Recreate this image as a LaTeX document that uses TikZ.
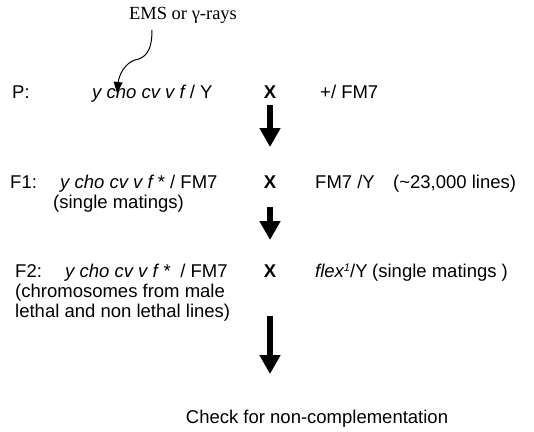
\documentclass[tikz,border=0pt]{standalone}
\usepackage{fontspec}
\setmainfont{Liberation Sans}
\newfontfamily\tnr{Liberation Serif}
\usetikzlibrary{arrows.meta}
\begin{document}
\begin{tikzpicture}[x=1pt,y=-1pt,
  txt/.style={inner sep=0pt, anchor=base west, font=\fontsize{18.5}{20}\selectfont},
  crossx/.style={inner sep=0pt, anchor=base, font=\fontsize{18.5}{20}\selectfont\bfseries},
  bigarrow/.style={line width=5.5pt, -{Triangle[width=20pt,length=19pt]}},
  bendarrow/.style={line width=1pt, -{Triangle[width=9pt,length=11pt]}}]
\useasboundingbox[fill=white] (0,0) rectangle (534,431);
% mutagen
\node[inner sep=0pt, anchor=base, font=\tnr\fontsize{18.5}{20}\selectfont] (ems) at (183,19) {EMS or γ-rays};
% P line
\node[txt] (p) at (12,98) {P:};
\node[txt] (pg) at (92,98) {\itshape y cho cv v f\upshape{} / Y};
\node[crossx] (px) at (270,98) {X};
\node[txt] (pm) at (320,98) {+/ FM7};
% F1 line
\node[txt] (f1) at (10,188) {F1:};
\node[txt] (f1g) at (60,188) {\itshape y cho cv v f\upshape{} * / FM7};
\node[crossx] (f1x) at (270,188) {X};
\node[txt] (f1m) at (315,188) {FM7 /Y};
\node[txt] (f1n) at (393,188) {(\textasciitilde23,000 lines)};
\node[txt] (f1s) at (53,208) {(single matings)};
% F2 line
\node[txt] (f2) at (15,277) {F2:};
\node[txt] (f2g) at (65,277) {\itshape y cho cv v f *\upshape{}\ \ / FM7};
\node[crossx] (f2x) at (270,277) {X};
\node[txt] (f2m) at (315,277) {\itshape flex\upshape{}\raisebox{0.55ex}{\fontsize{11}{11}\selectfont\itshape 1}/Y};
\node[txt] (f2s) at (372,277) {(single matings )};
\node[txt] (f2c) at (15,297) {(chromosomes from male};
\node[txt] (f2l) at (15,317) {lethal and non lethal lines)};
% result
\node[inner sep=0pt, anchor=base, font=\fontsize{18.5}{20}\selectfont] (chk) at (317,423) {Check for non-complementation};
% arrows
\coordinate (a1s) at (270,105);
\coordinate (a1e) at (270,147);
\coordinate (a2s) at (270,207);
\coordinate (a2e) at (270,240);
\coordinate (a3s) at (270,316);
\coordinate (a3e) at (270,374);
\draw[bigarrow] (a1s) -- (a1e);
\draw[bigarrow] (a2s) -- (a2e);
\draw[bigarrow] (a3s) -- (a3e);
\coordinate (cs) at (152,30);
\coordinate (cm) at (135,60);
\coordinate (ce) at (117,93);
\draw[bendarrow] (cs) .. controls (152,52) and (145,58) .. (cm) .. controls (125,63) and (119,75) .. (ce);
\end{tikzpicture}
\end{document}
